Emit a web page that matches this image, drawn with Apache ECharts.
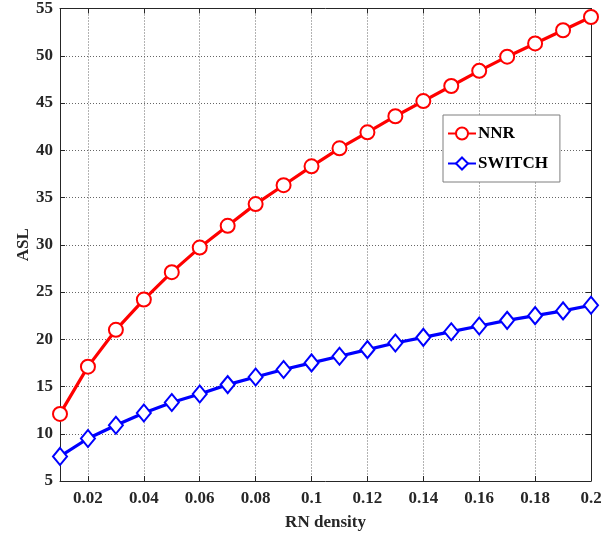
<!DOCTYPE html>
<html><head><meta charset="utf-8">
<script src="https://cdn.jsdelivr.net/npm/echarts@6/dist/echarts.min.js"></script>
<style>html,body{margin:0;padding:0;background:#fff}#c{width:608px;height:539px}</style>
</head><body><div id="c"></div>
<script>
const density = [0.01,0.02,0.03,0.04,0.05,0.06,0.07,0.08,0.09,0.10,0.11,0.12,0.13,0.14,0.15,0.16,0.17,0.18,0.19,0.20];
const nnr = [12.1,17.1,21.0,24.2,27.1,29.7,32.0,34.3,36.3,38.3,40.2,41.9,43.6,45.2,46.8,48.4,49.9,51.3,52.7,54.1];
const sw = [7.6,9.5,10.9,12.2,13.3,14.2,15.2,16.0,16.8,17.5,18.2,18.9,19.6,20.2,20.8,21.4,22.0,22.5,23.0,23.6];
const xTicks = [0.02,0.04,0.06,0.08,0.1,0.12,0.14,0.16,0.18,0.2];
const font = 'Liberation Serif, Times New Roman, serif';
const chart = echarts.init(document.getElementById('c'));
const axisCommon = {
  axisLine:{show:true,onZero:false,lineStyle:{color:'#262626',width:1}},
  axisTick:{show:true,inside:true,length:5,lineStyle:{color:'#262626'}},
};
chart.setOption({
  animation:false,
  grid:{left:60,top:8,right:17,bottom:58,containLabel:false},
  legend:{
    orient:'vertical', left:443, top:115, width:114,
    backgroundColor:'#fff', borderColor:'#7f7f7f', borderWidth:1,
    padding:[10,12,10,4], itemGap:13, itemWidth:28, itemHeight:15,
    textStyle:{fontFamily:font,fontWeight:'bold',fontSize:17,color:'#000',padding:[0,0,0,-3]},
    data:['NNR','SWITCH']
  },
  xAxis:[{
    type:'value', min:0.01, max:0.2, position:'bottom',
    ...axisCommon,
    axisTick:{show:true,inside:true,length:5,lineStyle:{color:'#262626'},customValues:xTicks},
    axisLabel:{customValues:xTicks,fontFamily:font,fontWeight:'bold',fontSize:17,color:'#262626',margin:9,
      formatter:v=>String(Math.round(v*100)/100)},
    splitLine:{show:true,lineStyle:{color:'#666',type:[1,2],width:1}},
    name:'RN density', nameLocation:'middle', nameGap:33, nameMoveOverlap:false,
    nameTextStyle:{fontFamily:font,fontWeight:'bold',fontSize:17,color:'#262626'}
  },{
    type:'value', min:0.01, max:0.2, position:'top',
    axisLine:{show:true,onZero:false,lineStyle:{color:'#262626'}},
    axisTick:{show:true,inside:true,length:5,lineStyle:{color:'#262626'},customValues:xTicks},
    axisLabel:{show:false}, splitLine:{show:false}
  }],
  yAxis:[{
    type:'value', min:5, max:55, interval:5, position:'left',
    ...axisCommon,
    axisLabel:{fontFamily:font,fontWeight:'bold',fontSize:17,color:'#262626',margin:7},
    splitLine:{show:true,lineStyle:{color:'#666',type:[1,2],width:1}},
    name:'ASL', nameLocation:'middle', nameGap:28, nameMoveOverlap:false,
    nameTextStyle:{fontFamily:font,fontWeight:'bold',fontSize:17,color:'#262626'}
  },{
    type:'value', min:5, max:55, interval:5, position:'right',
    axisLine:{show:true,onZero:false,lineStyle:{color:'#262626'}},
    axisTick:{show:true,inside:true,length:5,lineStyle:{color:'#262626'}},
    axisLabel:{show:false}, splitLine:{show:false}
  }],
  series:[{
    name:'NNR', type:'line', xAxisIndex:0, yAxisIndex:0,
    data:density.map((d,i)=>[d,nnr[i]]),
    symbol:'emptyCircle', symbolSize:14,
    lineStyle:{color:'#ff0000',width:3.2}, itemStyle:{color:'#ff0000',borderWidth:3,borderColor:'#ff0000'},
  },{
    name:'SWITCH', type:'line', xAxisIndex:0, yAxisIndex:0,
    data:density.map((d,i)=>[d,sw[i]]),
    symbol:'emptyDiamond', symbolSize:[14,17],
    lineStyle:{color:'#0000ff',width:3.2}, itemStyle:{color:'#0000ff',borderWidth:3,borderColor:'#0000ff'},
  }]
});
</script></body></html>
